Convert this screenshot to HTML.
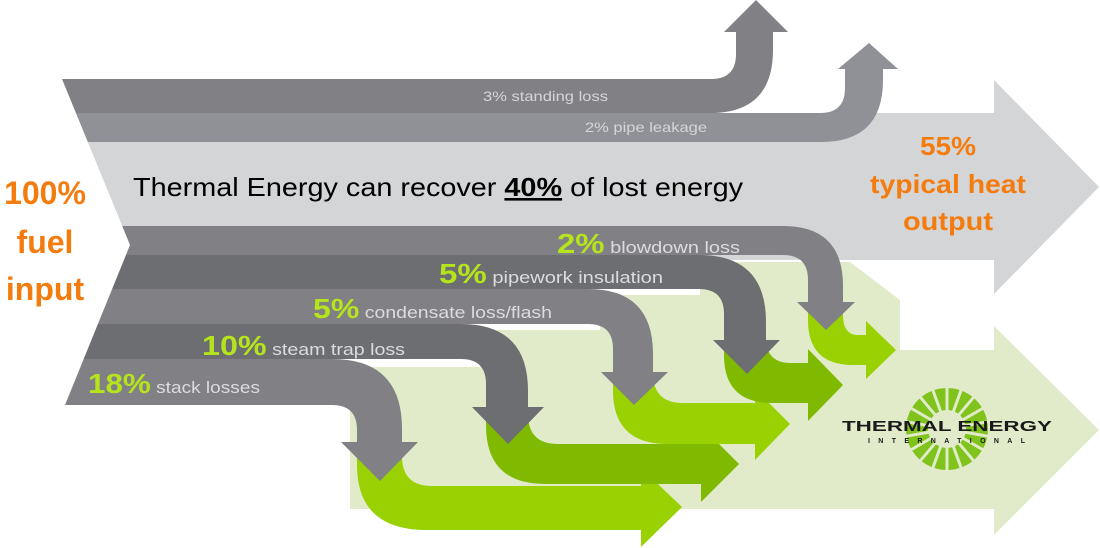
<!DOCTYPE html>
<html><head><meta charset="utf-8"><style>
html,body{margin:0;padding:0;background:#fff;}
svg{display:block;font-family:"Liberation Sans",sans-serif;}
</style></head><body>
<svg width="1100" height="548" viewBox="0 0 1100 548" xmlns="http://www.w3.org/2000/svg">
<polygon points="0,113 994,113 994,80 1099,187 994,294 994,260 0,260" fill="#d4d5d7"/>
<polygon points="350,367 480,367 480,330 600,330 600,295 700,295 700,262 850,262 900,300 900,350 994,350 994,326 1099,430 994,535 994,509 350,509" fill="#e1ebca"/>
<path d="M357,440 L357,465 Q357,530 427,530 L641,530 L641,547 L682,507 L641,468 L641,486 L432,486 Q402,486 402,456 L402,440 Z" fill="#99d103"/>
<path d="M486,405 L486,425 Q486,484 545,484 L701,484 L701,502 L739,464 L701,426 L701,444 L558,444 Q528,444 528,414 L528,405 Z" fill="#7fba00"/>
<path d="M613,370 L613,390 Q613,444 667,444 L755,444 L755,460 L790,424 L755,389 L755,403 L683,403 Q653,403 653,373 L653,370 Z" fill="#99d103"/>
<path d="M724,338 L724,355 Q724,403 772,403 L808,403 L808,421 L843,385 L808,349 L808,363 L791,363 Q766,363 766,338 Z" fill="#7fba00"/>
<path d="M808,300 L808,320 Q808,365 853,365 L866,365 L866,379 L896,350 L866,321 L866,335 L858,335 Q843,335 843,315 L843,300 Z" fill="#99d103"/>
<path d="M0,79 L711,79 Q736,79 736,54 L736,32 L724,32 L756,0 L788,32 L773,32 L773,50 Q773,113 710,113 L0,113 Z" fill="#808085"/>
<path d="M0,113 L820,113 Q845,113 845,88 L845,69 L838,69 L869,43 L898,69 L883,69 L883,80 Q883,142 821,142 L0,142 Z" fill="#909196"/>
<rect x="0" y="142" width="994" height="84" fill="#d4d5d7"/>
<path d="M0,226 L783,226 Q843,226 843,286 L843,302 L855,302 L826,330 L797,302 L808,302 L808,280 Q808,255 783,255 L0,255 Z" fill="#808085"/>
<path d="M0,255 L699,255 Q766,255 766,322 L766,340 L780,340 L747,374 L713,340 L724,340 L724,314 Q724,289 699,289 L0,289 Z" fill="#6d6e71"/>
<path d="M0,289 L588,289 Q653,289 653,354 L653,372 L668,372 L634,405 L601,372 L613,372 L613,349 Q613,324 588,324 L0,324 Z" fill="#808085"/>
<path d="M0,324 L461,324 Q528,324 528,391 L528,407 L544,407 L508,444 L472,407 L486,407 L486,384 Q486,359 461,359 L0,359 Z" fill="#6d6e71"/>
<path d="M0,359 L332,359 Q402,359 402,429 L402,442 L418,442 L380,481 L341,442 L357,442 L357,430 Q357,405 332,405 L0,405 Z" fill="#808085"/>
<polygon points="0,70 62,79 130,245 65,405 0,410" fill="#fff"/>
<rect x="0" y="0" width="62" height="79" fill="#fff"/>
<g transform="translate(947,429)">
<circle r="41" fill="#7fc31c"/>
<g stroke="#e1ebca" stroke-width="3">
<line x1="0" y1="-18" x2="0" y2="-42" transform="rotate(0)"/>
<line x1="0" y1="-18" x2="0" y2="-42" transform="rotate(20)"/>
<line x1="0" y1="-18" x2="0" y2="-42" transform="rotate(40)"/>
<line x1="0" y1="-18" x2="0" y2="-42" transform="rotate(60)"/>
<line x1="0" y1="-18" x2="0" y2="-42" transform="rotate(80)"/>
<line x1="0" y1="-18" x2="0" y2="-42" transform="rotate(100)"/>
<line x1="0" y1="-18" x2="0" y2="-42" transform="rotate(120)"/>
<line x1="0" y1="-18" x2="0" y2="-42" transform="rotate(140)"/>
<line x1="0" y1="-18" x2="0" y2="-42" transform="rotate(160)"/>
<line x1="0" y1="-18" x2="0" y2="-42" transform="rotate(180)"/>
<line x1="0" y1="-18" x2="0" y2="-42" transform="rotate(200)"/>
<line x1="0" y1="-18" x2="0" y2="-42" transform="rotate(220)"/>
<line x1="0" y1="-18" x2="0" y2="-42" transform="rotate(240)"/>
<line x1="0" y1="-18" x2="0" y2="-42" transform="rotate(260)"/>
<line x1="0" y1="-18" x2="0" y2="-42" transform="rotate(280)"/>
<line x1="0" y1="-18" x2="0" y2="-42" transform="rotate(300)"/>
<line x1="0" y1="-18" x2="0" y2="-42" transform="rotate(320)"/>
<line x1="0" y1="-18" x2="0" y2="-42" transform="rotate(340)"/>
</g>
<circle r="19" fill="#e1ebca"/>
</g>
<text x="842" y="431" font-weight="bold" font-size="15" textLength="210" lengthAdjust="spacingAndGlyphs" fill="#1a1a1a">THERMAL ENERGY</text>
<text x="868" y="443" font-weight="bold" font-size="7" textLength="157" lengthAdjust="spacing" fill="#1a1a1a">INTERNATIONAL</text>
<text x="483" y="101" font-size="14" fill="#d6d6d8" textLength="125" lengthAdjust="spacingAndGlyphs">3% standing loss</text>
<text x="585" y="132" font-size="14" fill="#d6d6d8" textLength="122" lengthAdjust="spacingAndGlyphs">2% pipe leakage</text>
<text x="133" y="196" font-size="26" fill="#000" textLength="610" lengthAdjust="spacingAndGlyphs">Thermal Energy can recover <tspan font-weight="bold" text-decoration="underline">40%</tspan> of lost energy</text>
<g font-weight="bold" font-size="32" fill="#f47c0f" text-anchor="middle">
<text x="45" y="204">100%</text>
<text x="45" y="253">fuel</text>
<text x="45" y="300">input</text>
</g>
<g font-weight="bold" font-size="26" fill="#f47c0f">
<text x="920" y="155" textLength="56" lengthAdjust="spacingAndGlyphs">55%</text>
<text x="870" y="193" textLength="156" lengthAdjust="spacingAndGlyphs">typical heat</text>
<text x="903" y="230" textLength="90" lengthAdjust="spacingAndGlyphs">output</text>
</g>
<g font-size="17" fill="#dcdcde">
<text x="557" y="253" textLength="183" lengthAdjust="spacingAndGlyphs"><tspan font-weight="bold" font-size="28" fill="#b5e41c">2%</tspan> blowdown loss</text>
<text x="439" y="283" textLength="224" lengthAdjust="spacingAndGlyphs"><tspan font-weight="bold" font-size="28" fill="#b5e41c">5%</tspan> pipework insulation</text>
<text x="313" y="318" textLength="239" lengthAdjust="spacingAndGlyphs"><tspan font-weight="bold" font-size="28" fill="#b5e41c">5%</tspan> condensate loss/flash</text>
<text x="202" y="355" textLength="203" lengthAdjust="spacingAndGlyphs"><tspan font-weight="bold" font-size="28" fill="#b5e41c">10%</tspan> steam trap loss</text>
<text x="88" y="393" textLength="172" lengthAdjust="spacingAndGlyphs"><tspan font-weight="bold" font-size="28" fill="#b5e41c">18%</tspan> stack losses</text>
</g>
</svg>
</body></html>
